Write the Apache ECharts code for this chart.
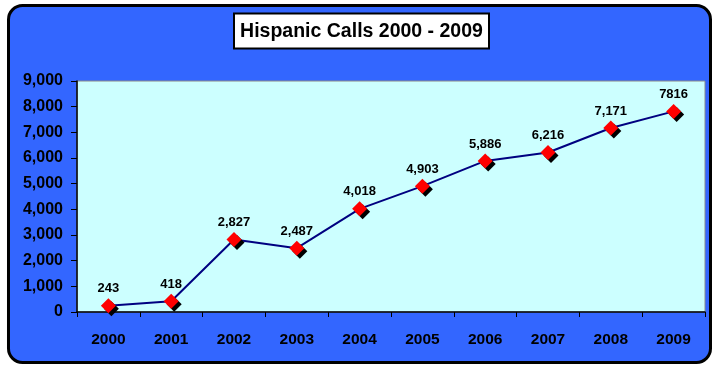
<!DOCTYPE html>
<html>
<head>
<meta charset="utf-8">
<script src="https://cdn.jsdelivr.net/npm/echarts@6/dist/echarts.min.js"></script>
<style>
  html, body { margin: 0; padding: 0; background: #ffffff; }
  #chart { width: 713px; height: 367px; }
</style>
</head>
<body>
<div id="chart"></div>
<script>
// Hispanic calls per year, 2000-2009
const years = ['2000', '2001', '2002', '2003', '2004', '2005', '2006', '2007', '2008', '2009'];
const calls = [243, 418, 2827, 2487, 4018, 4903, 5886, 6216, 7171, 7816];
const callLabels = ['243', '418', '2,827', '2,487', '4,018', '4,903', '5,886', '6,216', '7,171', '7816'];
const yTicks = [0, 1000, 2000, 3000, 4000, 5000, 6000, 7000, 8000, 9000];
const titleText = 'Hispanic Calls 2000 - 2009';

const chart = echarts.init(document.getElementById('chart'), null, { renderer: 'canvas' });
const fontFamily = 'Liberation Sans, Arial, sans-serif';

chart.setOption({
  animation: false,
  backgroundColor: '#ffffff',
  graphic: [
    {
      type: 'rect',
      z: -10,
      shape: { x: 8.5, y: 5.5, width: 702, height: 357, r: 14 },
      style: { fill: '#3366ff', stroke: '#000000', lineWidth: 3 }
    },
    {
      type: 'rect',
      z: 5,
      shape: { x: 234, y: 13.5, width: 255, height: 35 },
      style: { fill: '#ffffff', stroke: '#000000', lineWidth: 2 }
    },
    {
      type: 'text',
      z: 6,
      x: 361.5,
      y: 31.5,
      style: {
        text: titleText,
        fill: '#000000',
        font: 'bold 19.5px ' + fontFamily,
        align: 'center',
        verticalAlign: 'middle'
      }
    }
  ],
  grid: {
    left: 77,
    right: 8,
    top: 81,
    bottom: 55,
    show: true,
    backgroundColor: '#ccffff',
    borderColor: '#8a8a8a',
    borderWidth: 1
  },
  xAxis: {
    type: 'category',
    data: years,
    boundaryGap: true,
    axisLine: { lineStyle: { color: '#000000', width: 1.5 } },
    axisTick: { show: true, length: 5, lineStyle: { color: '#000000' } },
    axisLabel: {
      color: '#000000',
      fontWeight: 'bold',
      fontSize: 15.5,
      fontFamily: fontFamily,
      margin: 20
    },
    splitLine: { show: false }
  },
  yAxis: {
    type: 'value',
    min: yTicks[0],
    max: yTicks[yTicks.length - 1],
    interval: yTicks[1] - yTicks[0],
    axisLine: { show: true, lineStyle: { color: '#000000', width: 1.5 } },
    axisTick: { show: true, length: 6, lineStyle: { color: '#000000' } },
    axisLabel: {
      color: '#000000',
      fontWeight: 'bold',
      fontSize: 16,
      fontFamily: fontFamily,
      margin: 14,
      formatter: v => v.toLocaleString('en-US')
    },
    splitLine: { show: false }
  },
  series: [
    {
      type: 'line',
      data: calls,
      symbol: 'diamond',
      symbolSize: 15,
      lineStyle: { color: '#000080', width: 2 },
      itemStyle: {
        color: '#ff0000',
        borderWidth: 0,
        shadowColor: '#000000',
        shadowBlur: 0,
        shadowOffsetX: 3,
        shadowOffsetY: 3
      },
      label: {
        show: true,
        position: 'top',
        distance: 3,
        color: '#000000',
        fontWeight: 'bold',
        fontSize: 13,
        fontFamily: fontFamily,
        formatter: p => callLabels[p.dataIndex]
      },
      z: 3
    }
  ]
});
</script>
</body>
</html>
